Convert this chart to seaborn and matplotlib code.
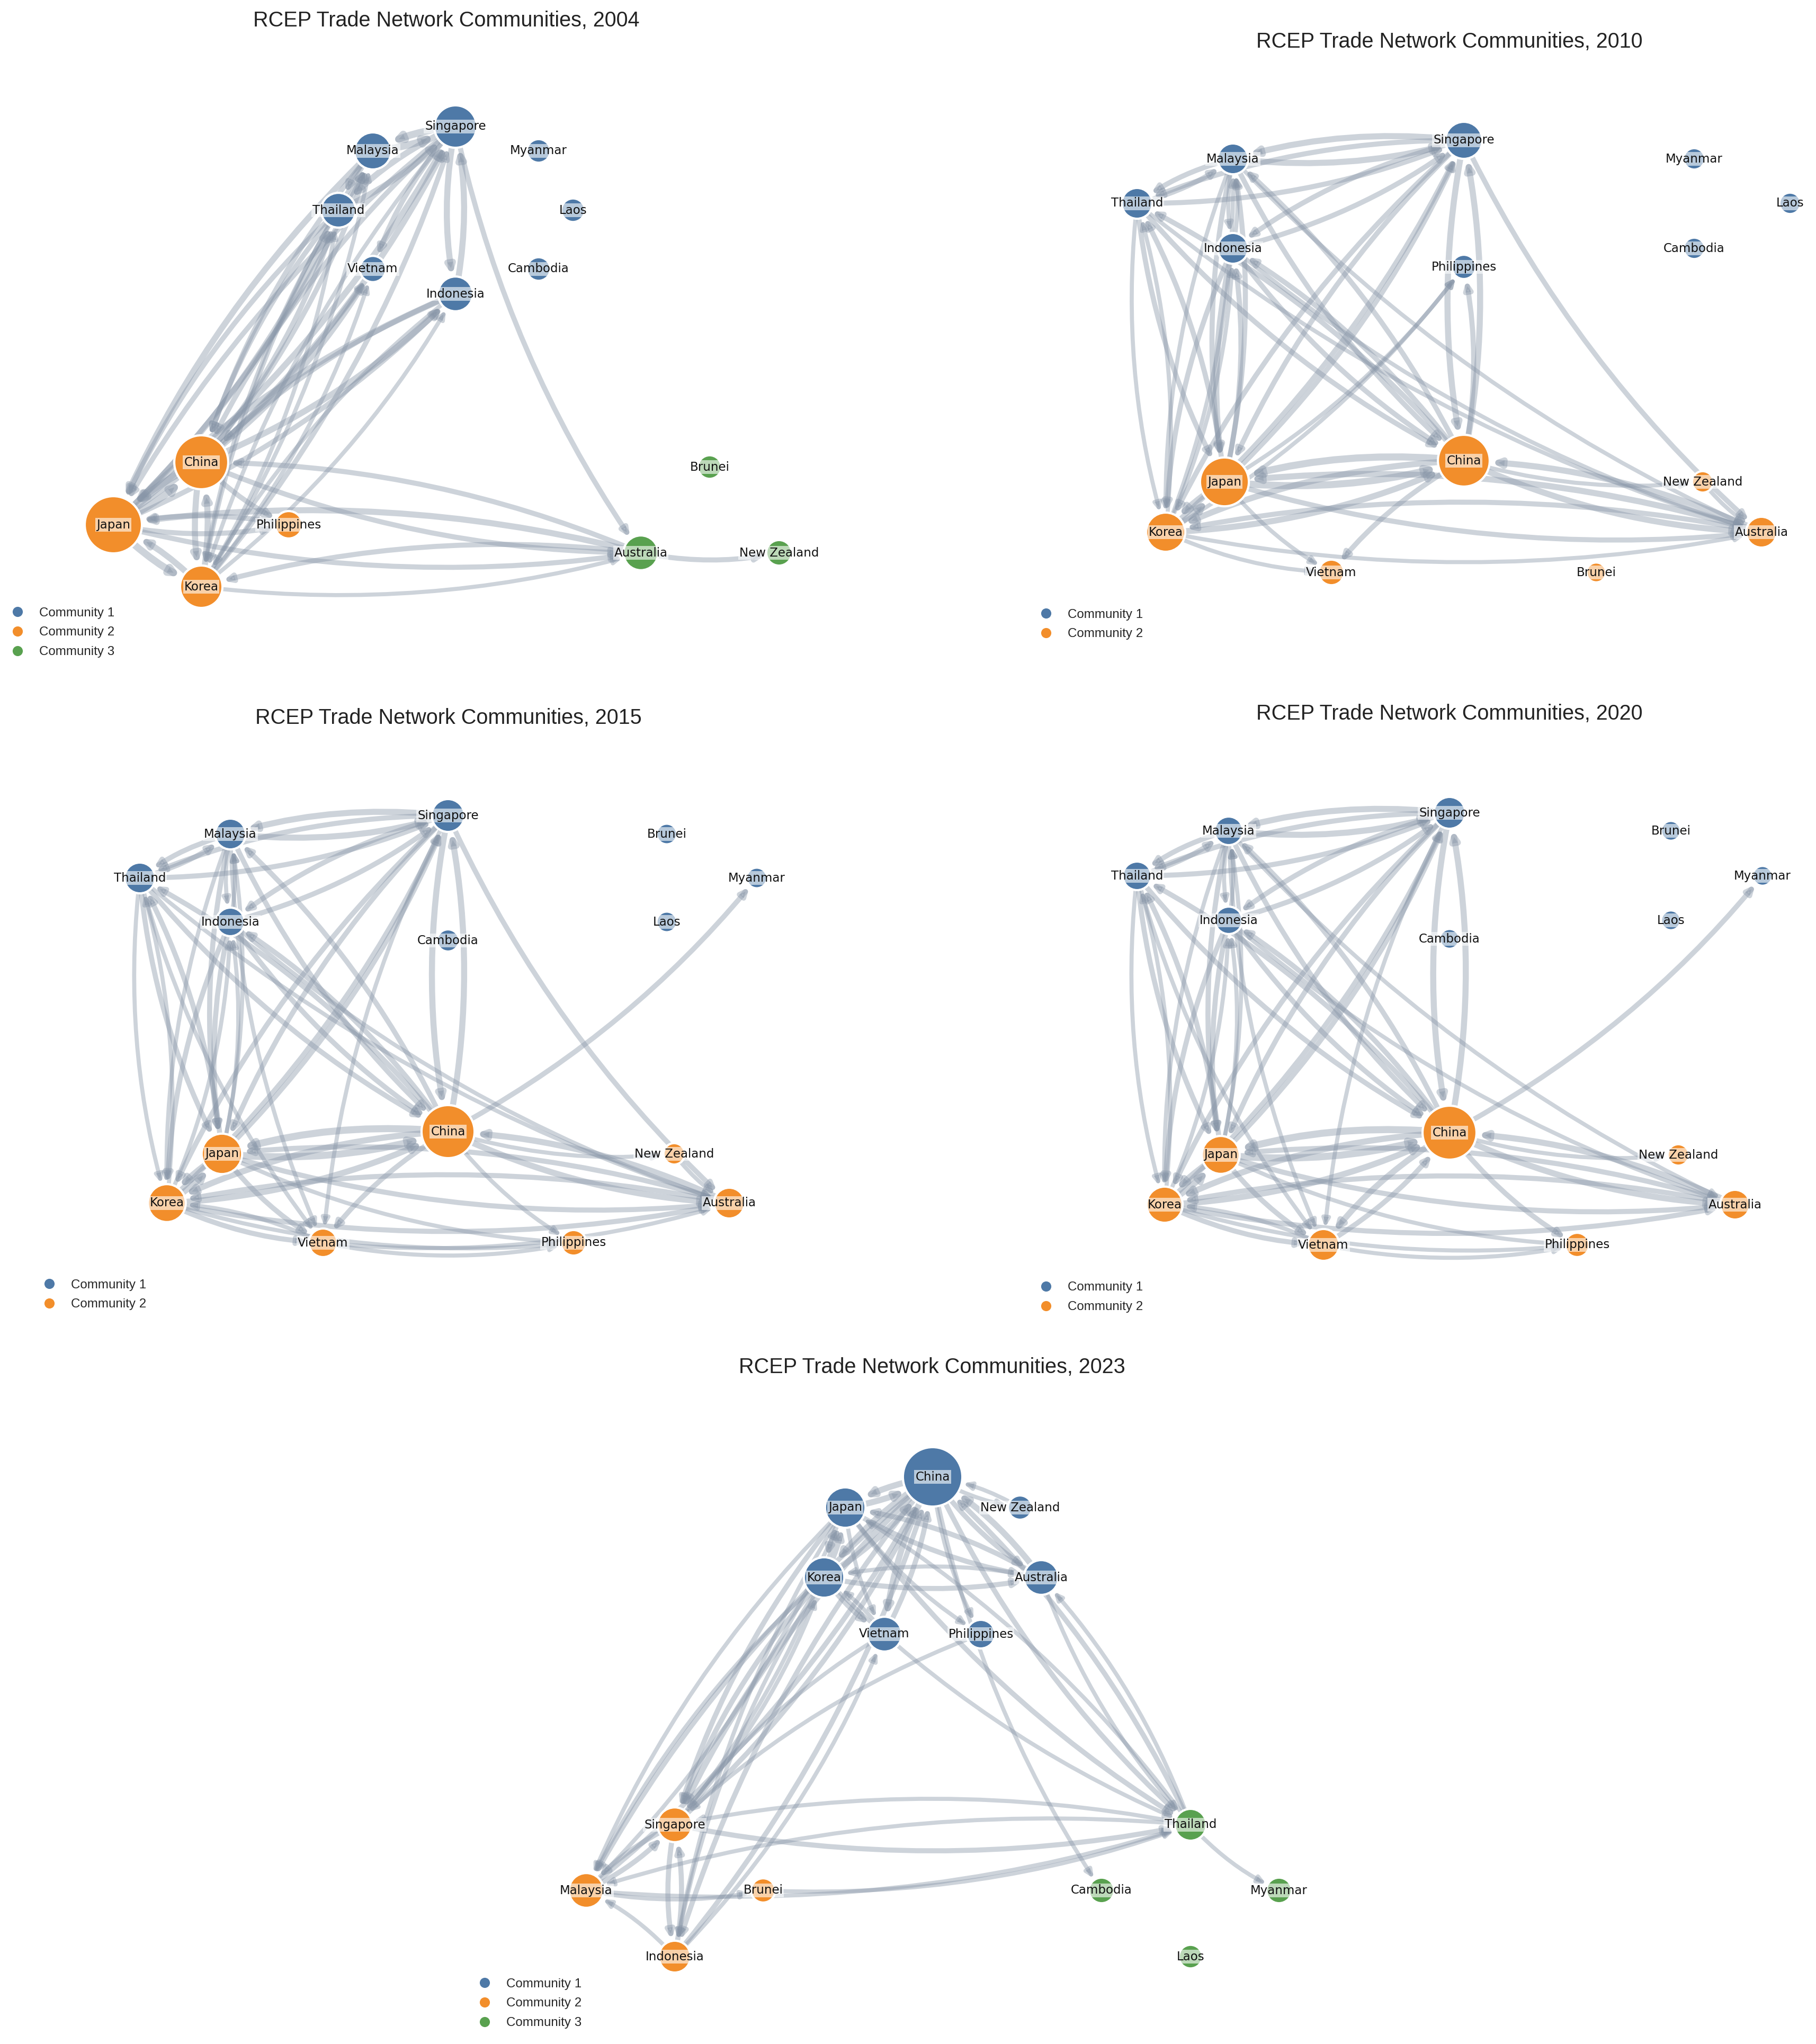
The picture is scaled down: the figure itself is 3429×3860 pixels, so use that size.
import numpy as np
import pandas as pd
import matplotlib
matplotlib.use("Agg")
import matplotlib.pyplot as plt
from matplotlib.patches import FancyArrowPatch
from matplotlib.lines import Line2D
import seaborn as sns

# ---------------------------------------------------------------
# Network data (layout positions, per panel)
# strength ~ node area, weight ~ edge width
# ---------------------------------------------------------------
countries_2004 = ["Singapore", "Malaysia", "Myanmar", "Thailand", "Laos", "Vietnam", "Cambodia",
                  "Indonesia", "China", "Brunei", "Japan", "Philippines", "Australia", "New Zealand", "Korea"]
x_2004 = [860, 704, 1017, 639, 1082, 704, 1017, 860, 380, 1340, 214, 545, 1210, 1471, 380]
y_2004 = [239, 285, 285, 397, 397, 508, 508, 555, 873, 882, 991, 991, 1044, 1044, 1108]
strength_2004 = [55, 42, 17, 37, 17, 21, 17, 37, 89, 17, 100, 23, 37, 20, 55]
community_2004 = [1, 1, 1, 1, 1, 1, 1, 1, 2, 3, 2, 2, 3, 3, 2]
edges_2004 = [
    ("Singapore", "Malaysia", 4), ("Malaysia", "Singapore", 4),
    ("Singapore", "Thailand", 3), ("Thailand", "Singapore", 3),
    ("Singapore", "Indonesia", 3), ("Indonesia", "Singapore", 3),
    ("Malaysia", "Thailand", 2), ("Thailand", "Malaysia", 2),
    ("Singapore", "Vietnam", 2), ("Singapore", "Australia", 2),
    ("Japan", "China", 4), ("China", "Japan", 4),
    ("Japan", "Korea", 4), ("Korea", "Japan", 3),
    ("China", "Korea", 3), ("Korea", "China", 3),
    ("Japan", "Singapore", 3), ("Singapore", "Japan", 2),
    ("Japan", "Malaysia", 2), ("Malaysia", "Japan", 3),
    ("Japan", "Thailand", 3), ("Thailand", "Japan", 2),
    ("Japan", "Indonesia", 2), ("Indonesia", "Japan", 3),
    ("Japan", "Philippines", 2), ("Philippines", "Japan", 2),
    ("Japan", "Australia", 2), ("Australia", "Japan", 3),
    ("Japan", "Vietnam", 1),
    ("China", "Singapore", 3), ("Singapore", "China", 2),
    ("China", "Malaysia", 2), ("Malaysia", "China", 2),
    ("China", "Thailand", 2), ("Thailand", "China", 2),
    ("China", "Indonesia", 3), ("Indonesia", "China", 2),
    ("China", "Vietnam", 2), ("China", "Philippines", 2),
    ("China", "Australia", 2), ("Australia", "China", 2),
    ("Korea", "Singapore", 2), ("Singapore", "Korea", 1),
    ("Korea", "Thailand", 1), ("Thailand", "Korea", 1),
    ("Korea", "Malaysia", 1), ("Malaysia", "Korea", 1),
    ("Korea", "Indonesia", 1), ("Indonesia", "Korea", 1),
    ("Korea", "Vietnam", 1),
    ("Australia", "Korea", 2), ("Korea", "Australia", 1),
    ("Australia", "New Zealand", 2),
]

countries_2010 = ["Singapore", "Malaysia", "Myanmar", "Thailand", "Laos", "Indonesia", "Cambodia", "Philippines",
                  "China", "Japan", "New Zealand", "Korea", "Australia", "Vietnam", "Brunei"]
x_2010 = [864, 428, 1299, 247, 1480, 428, 1299, 864, 864, 412, 1315, 301, 1426, 614, 1114]
y_2010 = [265, 300, 300, 384, 384, 469, 469, 504, 870, 910, 910, 1005, 1005, 1081, 1081]
strength_2010 = [42, 29, 14, 29, 14, 29, 14, 18, 82, 73, 14, 47, 29, 20, 12]
community_2010 = [1, 1, 1, 1, 1, 1, 1, 1, 2, 2, 2, 2, 2, 2, 2]
edges_2010 = [
    ("Singapore", "Malaysia", 3), ("Malaysia", "Singapore", 3),
    ("Singapore", "Thailand", 2), ("Thailand", "Singapore", 2),
    ("Singapore", "Indonesia", 2), ("Indonesia", "Singapore", 2),
    ("Malaysia", "Thailand", 2), ("Thailand", "Malaysia", 2),
    ("Malaysia", "Indonesia", 1), ("Indonesia", "Malaysia", 1),
    ("Singapore", "China", 3), ("China", "Singapore", 3),
    ("China", "Philippines", 2), ("Japan", "Philippines", 1), ("Korea", "Philippines", 1),
    ("Singapore", "Japan", 2), ("Japan", "Singapore", 2),
    ("Singapore", "Korea", 2), ("Korea", "Singapore", 2),
    ("Singapore", "Australia", 2),
    ("Malaysia", "China", 2), ("China", "Malaysia", 2),
    ("Malaysia", "Japan", 2), ("Japan", "Malaysia", 2),
    ("Malaysia", "Korea", 1), ("Korea", "Malaysia", 1),
    ("Malaysia", "Australia", 1),
    ("Thailand", "China", 2), ("China", "Thailand", 2),
    ("Thailand", "Japan", 2), ("Japan", "Thailand", 2),
    ("Thailand", "Korea", 1), ("Korea", "Thailand", 1),
    ("Thailand", "Australia", 1),
    ("Indonesia", "China", 2), ("China", "Indonesia", 2),
    ("Indonesia", "Japan", 3), ("Japan", "Indonesia", 2),
    ("Indonesia", "Korea", 2), ("Korea", "Indonesia", 1),
    ("Indonesia", "Australia", 1),
    ("Japan", "China", 4), ("China", "Japan", 4),
    ("Japan", "Korea", 3), ("Korea", "Japan", 3),
    ("China", "Korea", 3), ("Korea", "China", 3),
    ("Japan", "Vietnam", 1), ("China", "Vietnam", 2), ("Korea", "Vietnam", 1),
    ("Japan", "Australia", 2), ("Australia", "Japan", 3),
    ("China", "Australia", 3), ("Australia", "China", 3),
    ("Korea", "Australia", 1), ("Australia", "Korea", 2),
    ("New Zealand", "Australia", 1), ("China", "New Zealand", 1),
]

countries_2015 = ["Singapore", "Malaysia", "Brunei", "Thailand", "Myanmar", "Indonesia", "Laos", "Cambodia",
                  "China", "Japan", "New Zealand", "Korea", "Australia", "Vietnam", "Philippines"]
x_2015 = [846, 435, 1259, 264, 1429, 435, 1259, 846, 846, 419, 1273, 315, 1377, 610, 1083]
y_2015 = [240, 275, 275, 358, 358, 441, 441, 476, 837, 879, 879, 972, 972, 1047, 1047]
strength_2015 = [33, 29, 13, 29, 13, 25, 13, 15, 86, 50, 14, 44, 29, 25, 20]
community_2015 = [1, 1, 1, 1, 1, 1, 1, 1, 2, 2, 2, 2, 2, 2, 2]
edges_2015 = [
    ("Singapore", "Malaysia", 3), ("Malaysia", "Singapore", 3),
    ("Singapore", "Thailand", 2), ("Thailand", "Singapore", 2),
    ("Singapore", "Indonesia", 2), ("Indonesia", "Singapore", 2),
    ("Malaysia", "Thailand", 2), ("Thailand", "Malaysia", 2),
    ("Malaysia", "Indonesia", 1), ("Indonesia", "Malaysia", 1),
    ("Singapore", "China", 3), ("China", "Singapore", 3),
    ("Singapore", "Japan", 2), ("Japan", "Singapore", 2),
    ("Singapore", "Korea", 2), ("Korea", "Singapore", 2),
    ("Singapore", "Vietnam", 1), ("Singapore", "Australia", 2),
    ("Malaysia", "China", 2), ("China", "Malaysia", 2),
    ("Malaysia", "Japan", 2), ("Japan", "Malaysia", 1),
    ("Malaysia", "Korea", 1), ("Malaysia", "Vietnam", 1),
    ("Thailand", "China", 2), ("China", "Thailand", 2),
    ("Thailand", "Japan", 2), ("Japan", "Thailand", 2),
    ("Thailand", "Korea", 1), ("Korea", "Thailand", 1),
    ("Thailand", "Vietnam", 1), ("Thailand", "Australia", 1),
    ("Indonesia", "China", 2), ("China", "Indonesia", 2),
    ("Indonesia", "Japan", 2), ("Japan", "Indonesia", 1),
    ("Indonesia", "Korea", 2), ("Korea", "Indonesia", 1),
    ("Indonesia", "Australia", 1),
    ("China", "Myanmar", 2),
    ("Japan", "China", 4), ("China", "Japan", 4),
    ("Japan", "Korea", 3), ("Korea", "Japan", 3),
    ("China", "Korea", 3), ("Korea", "China", 3),
    ("Japan", "Vietnam", 2), ("China", "Vietnam", 2), ("Korea", "Vietnam", 2), ("Vietnam", "Korea", 1),
    ("Japan", "Philippines", 1), ("China", "Philippines", 1),
    ("Korea", "Philippines", 1), ("Vietnam", "Philippines", 1),
    ("Japan", "Australia", 2), ("Australia", "Japan", 2),
    ("China", "Australia", 3), ("Australia", "China", 3),
    ("Korea", "Australia", 2), ("Australia", "Korea", 2),
    ("Vietnam", "Australia", 1),
    ("New Zealand", "Australia", 1), ("China", "New Zealand", 1),
]

countries_2020 = ["Singapore", "Malaysia", "Brunei", "Thailand", "Myanmar", "Indonesia", "Laos", "Cambodia",
                  "China", "Japan", "New Zealand", "Korea", "Australia", "Vietnam", "Philippines"]
x_2020 = [837, 420, 1255, 247, 1428, 420, 1255, 837, 837, 405, 1269, 299, 1376, 599, 1078]
y_2020 = [235, 269, 269, 354, 354, 438, 438, 473, 839, 881, 881, 975, 975, 1051, 1051]
strength_2020 = [31, 25, 12, 25, 12, 23, 12, 12, 89, 44, 14, 40, 27, 31, 18]
community_2020 = [1, 1, 1, 1, 1, 1, 1, 1, 2, 2, 2, 2, 2, 2, 2]
edges_2020 = [
    ("Singapore", "Malaysia", 3), ("Malaysia", "Singapore", 3),
    ("Singapore", "Thailand", 2), ("Thailand", "Singapore", 2),
    ("Singapore", "Indonesia", 2), ("Indonesia", "Singapore", 2),
    ("Malaysia", "Thailand", 2), ("Thailand", "Malaysia", 2),
    ("Malaysia", "Indonesia", 1), ("Indonesia", "Malaysia", 1),
    ("Singapore", "China", 3), ("China", "Singapore", 3),
    ("Singapore", "Japan", 2), ("Japan", "Singapore", 2),
    ("Singapore", "Korea", 2), ("Korea", "Singapore", 2),
    ("Singapore", "Vietnam", 1),
    ("Malaysia", "China", 2), ("China", "Malaysia", 2),
    ("Malaysia", "Japan", 2), ("Japan", "Malaysia", 1),
    ("Malaysia", "Korea", 1), ("Malaysia", "Vietnam", 1),
    ("Malaysia", "Australia", 1),
    ("Thailand", "China", 2), ("China", "Thailand", 2),
    ("Thailand", "Japan", 2), ("Japan", "Thailand", 2),
    ("Thailand", "Korea", 1), ("Korea", "Thailand", 1),
    ("Thailand", "Vietnam", 1),
    ("Indonesia", "China", 2), ("China", "Indonesia", 2),
    ("Indonesia", "Japan", 2), ("Japan", "Indonesia", 1),
    ("Indonesia", "Korea", 2), ("Korea", "Indonesia", 1),
    ("Indonesia", "Australia", 1),
    ("China", "Myanmar", 2),
    ("Japan", "China", 4), ("China", "Japan", 4),
    ("Japan", "Korea", 3), ("Korea", "Japan", 3),
    ("China", "Korea", 3), ("Korea", "China", 3),
    ("Japan", "Vietnam", 2), ("China", "Vietnam", 3), ("Vietnam", "China", 2),
    ("Korea", "Vietnam", 2), ("Vietnam", "Korea", 1),
    ("Japan", "Philippines", 1), ("China", "Philippines", 2),
    ("Korea", "Philippines", 1), ("Vietnam", "Philippines", 1),
    ("Japan", "Australia", 2), ("Australia", "Japan", 2),
    ("China", "Australia", 3), ("Australia", "China", 3),
    ("Korea", "Australia", 2), ("Australia", "Korea", 2),
    ("China", "New Zealand", 1),
]

countries_2023 = ["China", "Japan", "New Zealand", "Korea", "Australia", "Vietnam", "Philippines", "Singapore",
                  "Thailand", "Malaysia", "Brunei", "Cambodia", "Myanmar", "Indonesia", "Laos"]
x_2023 = [911, 746, 1076, 706, 1116, 820, 1002, 424, 1398, 257, 591, 1230, 1565, 424, 1398]
y_2023 = [239, 297, 297, 429, 429, 536, 536, 896, 896, 1020, 1020, 1020, 1020, 1145, 1145]
strength_2023 = [108, 50, 18, 50, 37, 37, 25, 37, 31, 37, 18, 20, 20, 31, 17]
community_2023 = [1, 1, 1, 1, 1, 1, 1, 2, 3, 2, 2, 3, 3, 2, 3]
edges_2023 = [
    ("China", "Japan", 3), ("Japan", "China", 3),
    ("China", "Korea", 3), ("Korea", "China", 3),
    ("China", "Vietnam", 3), ("Vietnam", "China", 2),
    ("China", "Australia", 2), ("Australia", "China", 3),
    ("China", "New Zealand", 1), ("New Zealand", "China", 1),
    ("China", "Philippines", 1),
    ("Japan", "Korea", 2), ("Korea", "Japan", 2),
    ("Japan", "Vietnam", 1), ("Korea", "Vietnam", 2), ("Vietnam", "Korea", 1),
    ("Japan", "Australia", 2), ("Australia", "Japan", 2),
    ("Korea", "Australia", 2), ("Australia", "Korea", 1),
    ("Japan", "Philippines", 1),
    ("China", "Singapore", 3), ("Singapore", "China", 2),
    ("China", "Malaysia", 2), ("Malaysia", "China", 2),
    ("China", "Indonesia", 2), ("Indonesia", "China", 2),
    ("Japan", "Singapore", 2), ("Singapore", "Japan", 1),
    ("Japan", "Malaysia", 1), ("Malaysia", "Japan", 1),
    ("Japan", "Indonesia", 1),
    ("Korea", "Singapore", 2), ("Singapore", "Korea", 1),
    ("Korea", "Malaysia", 1), ("Korea", "Indonesia", 1),
    ("Vietnam", "Singapore", 1), ("Indonesia", "Vietnam", 1),
    ("Philippines", "Singapore", 1),
    ("China", "Cambodia", 1),
    ("China", "Thailand", 2), ("Thailand", "China", 2),
    ("Japan", "Thailand", 2), ("Thailand", "Japan", 1),
    ("Korea", "Thailand", 1),
    ("Australia", "Thailand", 1), ("Thailand", "Australia", 1),
    ("Singapore", "Thailand", 2), ("Thailand", "Singapore", 1),
    ("Malaysia", "Thailand", 1), ("Thailand", "Malaysia", 1),
    ("Brunei", "Thailand", 1), ("Malaysia", "Brunei", 1),
    ("Thailand", "Myanmar", 1),
    ("Singapore", "Malaysia", 2), ("Malaysia", "Singapore", 2),
    ("Singapore", "Indonesia", 2), ("Indonesia", "Singapore", 2),
    ("Indonesia", "Malaysia", 1),
]

years = [2004, 2010, 2015, 2020, 2023]

# ---------------------------------------------------------------
# Figure layout (pixels of the 3429 x 3860 output)
# ---------------------------------------------------------------
DPI = 300
W, H = 3429, 3860
PX = 72.0 / DPI  # points per pixel

# panel box (left, top, width, height), title centre, legend first-row centre
panels = {
    2004: dict(box=(0, 0, 1700, 1280), title=(843, 39), legend=(33, 1161)),
    2010: dict(box=(1900, 0, 1529, 1280), title=(837, 79), legend=(75, 1164)),
    2015: dict(box=(0, 1300, 1700, 1250), title=(847, 56), legend=(93, 1130)),
    2020: dict(box=(1900, 1300, 1529, 1250), title=(837, 48), legend=(75, 1135)),
    2023: dict(box=(850, 2550, 1700, 1310), title=(910, 32), legend=(65, 1200)),
}

data = {
    2004: (countries_2004, x_2004, y_2004, strength_2004, community_2004, edges_2004),
    2010: (countries_2010, x_2010, y_2010, strength_2010, community_2010, edges_2010),
    2015: (countries_2015, x_2015, y_2015, strength_2015, community_2015, edges_2015),
    2020: (countries_2020, x_2020, y_2020, strength_2020, community_2020, edges_2020),
    2023: (countries_2023, x_2023, y_2023, strength_2023, community_2023, edges_2023),
}

palette = {"Community 1": "#4e79a7", "Community 2": "#f28e2b", "Community 3": "#59a14f"}
edge_color = "#8896a8"
RADIUS_PX = 5.4          # node radius in px per sqrt(strength)
K_AREA = (2 * RADIUS_PX * PX) ** 2

sns.set_style("white")
plt.rcParams["font.family"] = ["DejaVu Sans"]
title_font = ["Liberation Sans", "DejaVu Sans"]

fig = plt.figure(figsize=(W / DPI, H / DPI), dpi=DPI)

for year in years:
    names, xs, ys, strength, comm, edges = data[year]
    cfg = panels[year]
    left, top, w, h = cfg["box"]
    ax = fig.add_axes([left / W, 1 - (top + h) / H, w / W, h / H])

    df = pd.DataFrame({"country": names, "x": xs, "y": ys, "strength": strength,
                       "community": [f"Community {c}" for c in comm]})
    pos = {r.country: (r.x, r.y) for r in df.itertuples()}
    rad_pt = {r.country: RADIUS_PX * np.sqrt(r.strength) * PX for r in df.itertuples()}

    # edges (directed, curved)
    for src, dst, wgt in edges:
        arrow = FancyArrowPatch(pos[src], pos[dst],
                                connectionstyle="arc3,rad=0.1",
                                arrowstyle="-|>,head_length=0.35,head_width=0.16",
                                mutation_scale=8,
                                shrinkA=rad_pt[src], shrinkB=rad_pt[dst] + 0.6,
                                color=edge_color, alpha=0.42,
                                linewidth=1.4 + 0.45 * wgt, zorder=1)
        ax.add_patch(arrow)

    # nodes
    smin, smax = df["strength"].min(), df["strength"].max()
    sns.scatterplot(data=df, x="x", y="y", hue="community", palette=palette,
                    size="strength", sizes=(K_AREA * smin, K_AREA * smax), size_norm=(smin, smax),
                    edgecolor="white", linewidth=1.0, legend=False, ax=ax, zorder=3)
    ax.set_xlim(0, w)
    ax.set_ylim(h, 0)
    ax.set_axis_off()

    # labels
    for r in df.itertuples():
        ax.text(r.x, r.y, r.country, ha="center", va="center", fontsize=5.5, color="#111111",
                zorder=4, bbox=dict(boxstyle="square,pad=0.08", fc="white", ec="none", alpha=0.6))

    tx, ty = cfg["title"]
    ax.text(tx, ty, f"RCEP Trade Network Communities, {year}", ha="center", va="center",
            fontsize=9.5, family=title_font, color="#222222")

    # legend
    present = sorted(df["community"].unique())
    handles = [Line2D([], [], marker="o", ls="", color=palette[c], markersize=3.6, label=c)
               for c in present]
    lx, ly = cfg["legend"]
    fs = 5.8
    ax.legend(handles=handles, loc="upper left",
              bbox_to_anchor=(lx - 0.5 * fs / PX, ly - 0.6 * fs / PX),
              bbox_transform=ax.transData, frameon=False,
              prop={"family": title_font, "size": fs},
              handlelength=1.0, handletextpad=1.2, labelspacing=0.62,
              borderpad=0, borderaxespad=0)

fig.savefig("out.png", dpi=DPI, facecolor="white")
